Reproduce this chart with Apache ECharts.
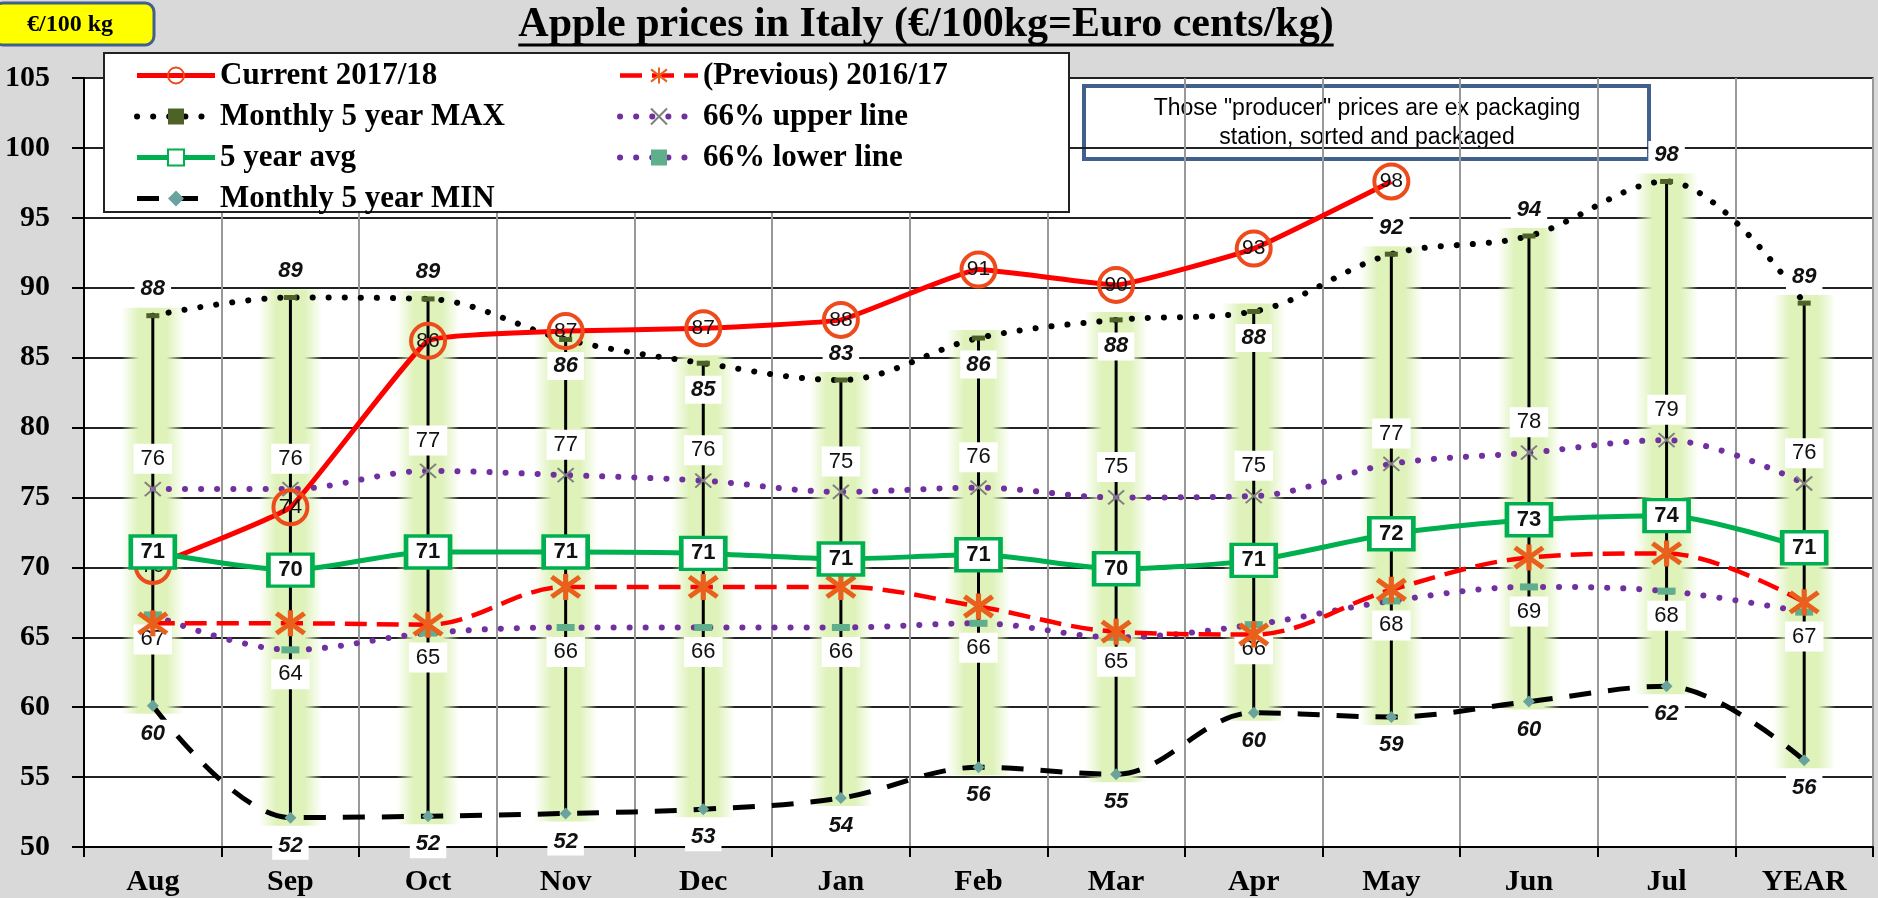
<!DOCTYPE html>
<html>
<head>
<meta charset="utf-8">
<title>Apple prices in Italy</title>
<script src="https://cdn.jsdelivr.net/npm/echarts@6/dist/echarts.min.js"></script>
<style>
  html, body { margin: 0; padding: 0; background: #d9d9d9; }
  #chart { width: 1878px; height: 898px; }
</style>
</head>
<body>
<div id="chart"></div>
<script>
// values (€/100kg)
const months = ['Aug', 'Sep', 'Oct', 'Nov', 'Dec', 'Jan', 'Feb', 'Mar', 'Apr', 'May', 'Jun', 'Jul', 'YEAR'];
const current = [70.1, 74.3, 86.2, 86.9, 87.1, 87.7, 91.3, 90.2, 92.8, 97.6, null, null, null];
const previous = [66.0, 66.0, 65.9, 68.6, 68.6, 68.6, 67.2, 65.4, 65.2, 68.4, 70.7, 71.0, 67.5];
const max5 = [88.0, 89.3, 89.2, 86.3, 84.6, 83.4, 86.4, 87.7, 88.3, 92.4, 93.7, 97.6, 88.9];
const upper66 = [75.6, 75.6, 76.9, 76.6, 76.2, 75.4, 75.7, 75.0, 75.1, 77.4, 78.2, 79.1, 76.0];
const avg5 = [71.1, 69.8, 71.1, 71.1, 71.0, 70.6, 70.9, 69.9, 70.5, 72.4, 73.4, 73.7, 71.4];
const lower66 = [66.6, 64.1, 65.3, 65.7, 65.7, 65.7, 66.0, 65.0, 65.9, 67.6, 68.6, 68.3, 66.8];
const min5 = [60.1, 52.1, 52.2, 52.4, 52.7, 53.5, 55.7, 55.2, 59.6, 59.3, 60.4, 61.5, 56.2];
// which side of the point the MAX label sits on
const maxLabelSide = ['top', 'top', 'top', 'bottom', 'bottom', 'top', 'bottom', 'bottom', 'bottom', 'top', 'top', 'top', 'top'];

const titleText = 'Apple prices in Italy (€/100kg=Euro cents/kg)';
const noteText = 'Those "producer" prices are ex packaging\nstation, sorted and packaged';

const SERIF = '"Liberation Serif", "Times New Roman", serif';
const SANS = '"Liberation Sans", Arial, sans-serif';

const measure = document.createElement('canvas').getContext('2d');
measure.font = 'bold 42px ' + SERIF;
const titleW = measure.measureText(titleText).width;

const round = p => Math.round(Array.isArray(p.value) ? p.value[1] : p.value);

const boxLabel = {
  show: true,
  fontFamily: SANS,
  fontSize: 22,
  color: '#111',
  backgroundColor: '#fff',
  padding: [4, 7],
  formatter: round
};

const legendBase = {
  z: 30, top: 55, orient: 'vertical',
  itemWidth: 78, itemHeight: 20, itemGap: 10, selectedMode: false,
  lineStyle: { width: 'inherit' },
  textStyle: { fontFamily: SERIF, fontWeight: 'bold', fontSize: 31, color: '#000', lineHeight: 24 }
};

// soft green band behind each high-low line
const glowFill = new echarts.graphic.LinearGradient(0, 0, 1, 0, [
  { offset: 0, color: 'rgba(222,242,186,0)' },
  { offset: 0.28, color: 'rgba(222,242,186,1)' },
  { offset: 0.72, color: 'rgba(222,242,186,1)' },
  { offset: 1, color: 'rgba(222,242,186,0)' }
]);

const chart = echarts.init(document.getElementById('chart'));

chart.setOption({
  backgroundColor: '#d9d9d9',
  animation: false,
  grid: {
    left: 84, right: 5, top: 78, bottom: 51,
    show: true, backgroundColor: '#fff', borderColor: '#808080', borderWidth: 2
  },
  xAxis: {
    type: 'category',
    data: months,
    axisLine: { lineStyle: { color: '#000', width: 2 } },
    axisTick: { show: true, length: 10, lineStyle: { color: '#000', width: 2 } },
    splitLine: { show: true, lineStyle: { color: '#999', width: 2 } },
    axisLabel: { fontFamily: SERIF, fontWeight: 'bold', fontSize: 30, color: '#000', margin: 20 }
  },
  yAxis: {
    type: 'value',
    min: 50, max: 105, interval: 5,
    axisLine: { show: true, lineStyle: { color: '#000', width: 2 } },
    axisTick: { show: true, length: 12, lineStyle: { color: '#000', width: 2 } },
    splitLine: { lineStyle: { color: '#222', width: 2 } },
    axisLabel: { fontFamily: SERIF, fontWeight: 'bold', fontSize: 30, color: '#000', margin: 34 }
  },
  legend: [
    Object.assign({}, legendBase, {
      left: 129,
      data: ['Current 2017/18', 'Monthly 5 year MAX', '5 year avg', 'Monthly 5 year MIN']
    }),
    Object.assign({}, legendBase, {
      left: 612,
      data: ['(Previous) 2016/17', '66% upper line', '66% lower line']
    })
  ],
  graphic: [
    {
      type: 'rect', z: -1,
      shape: { x: -6, y: 3, width: 160, height: 42, r: 9 },
      style: { fill: '#ffff00', stroke: '#41608c', lineWidth: 3 }
    },
    {
      type: 'text', x: 70, y: 25, z: 10,
      style: { text: '€/100 kg', font: 'bold 24px ' + SERIF, fill: '#000', align: 'center', verticalAlign: 'middle' }
    },
    {
      type: 'text', x: 926, y: 25,
      style: { text: titleText, font: 'bold 42px ' + SERIF, fill: '#000', align: 'center', verticalAlign: 'middle' }
    },
    {
      type: 'line',
      shape: { x1: 926 - titleW / 2, y1: 45, x2: 926 + titleW / 2, y2: 45 },
      style: { stroke: '#000', lineWidth: 3 }
    },
    {
      type: 'rect', z: 20,
      shape: { x: 104, y: 53, width: 965, height: 159 },
      style: { fill: '#fff', stroke: '#222', lineWidth: 2 }
    },
    {
      type: 'group', x: 1084, y: 86, z: 20,
      children: [
        { type: 'rect', shape: { x: 0, y: 0, width: 565, height: 73 }, style: { fill: '#fff', stroke: '#41608c', lineWidth: 4 } },
        {
          type: 'text', x: 283, y: 37,
          style: { text: noteText, font: '23px ' + SANS, lineHeight: 29, fill: '#000', align: 'center', verticalAlign: 'middle' }
        }
      ]
    }
  ],
  series: [
    {
      // high-low lines with their soft green glow
      type: 'custom',
      z: 1,
      silent: true,
      data: months.map((m, i) => [i, min5[i], max5[i]]),
      renderItem(params, api) {
        const top = api.coord([api.value(0), api.value(2)]);
        const bot = api.coord([api.value(0), api.value(1)]);
        const w = api.size([1, 0])[0] * 0.46;
        return {
          type: 'group',
          children: [
            {
              type: 'rect',
              shape: { x: top[0] - w / 2, y: top[1] - 8, width: w, height: bot[1] - top[1] + 16 },
              style: { fill: glowFill }
            },
            {
              type: 'line',
              shape: { x1: top[0], y1: top[1], x2: bot[0], y2: bot[1] },
              style: { stroke: '#000', lineWidth: 3 }
            }
          ]
        };
      }
    },
    {
      name: '66% lower line',
      type: 'line', z: 2,
      data: lower66,
      smooth: 0.35,
      symbol: 'rect', symbolSize: [18, 7],
      itemStyle: { color: '#5fae8c' },
      lineStyle: { color: '#7030a0', width: 6, type: [0.1, 16], cap: 'round' },
      label: Object.assign({}, boxLabel, { position: 'bottom', distance: 6 })
    },
    {
      name: '66% upper line',
      type: 'line', z: 2,
      data: upper66,
      smooth: 0.35,
      symbol: 'path://M0,0L10,10M10,0L0,10', symbolSize: [16, 14],
      itemStyle: { color: 'none', borderColor: '#7f7f7f', borderWidth: 2 },
      lineStyle: { color: '#7030a0', width: 6, type: [0.1, 16], cap: 'round' },
      label: Object.assign({}, boxLabel, { position: 'top', distance: 6 })
    },
    {
      name: 'Monthly 5 year MIN',
      type: 'line', z: 2,
      data: min5,
      smooth: 0.35,
      symbol: 'diamond', symbolSize: 12,
      itemStyle: { color: '#6aa39b' },
      lineStyle: { color: '#000', width: 5, type: [22, 17] },
      label: Object.assign({}, boxLabel, { position: 'bottom', distance: 8, fontWeight: 'bold', fontStyle: 'italic', padding: [3, 6] })
    },
    {
      name: 'Monthly 5 year MAX',
      type: 'line', z: 2,
      data: max5.map((v, i) => ({ value: v, label: { position: maxLabelSide[i] } })),
      smooth: 0.35,
      symbol: 'rect', symbolSize: [13, 5],
      itemStyle: { color: '#4e6228' },
      lineStyle: { color: '#000', width: 6, type: [0.1, 16], cap: 'round' },
      label: Object.assign({}, boxLabel, { distance: 10, fontWeight: 'bold', fontStyle: 'italic', padding: [3, 6] })
    },
    {
      name: '(Previous) 2016/17',
      type: 'line', z: 3,
      data: previous,
      smooth: 0.35,
      symbol: 'path://M0,0L20,20M20,0L0,20M10,-3L10,23', symbolSize: [28, 26],
      itemStyle: { color: 'none', borderColor: '#e8601c', borderWidth: 5 },
      lineStyle: { color: '#ff0000', width: 4.5, type: [22, 10] }
    },
    {
      name: 'Current 2017/18',
      type: 'line', z: 4,
      data: current,
      smooth: 0.1,
      symbol: 'circle', symbolSize: 34,
      itemStyle: { color: 'rgba(255,255,255,0)', borderColor: '#ee4b1c', borderWidth: 4 },
      lineStyle: { color: '#ff0000', width: 5 },
      label: { show: true, position: 'inside', fontFamily: SANS, fontSize: 21, color: '#111', formatter: round }
    },
    {
      name: '5 year avg',
      type: 'line', z: 5,
      data: avg5,
      smooth: 0.25,
      symbol: 'rect', symbolSize: [44, 32],
      itemStyle: { color: '#fff', borderColor: '#00b050', borderWidth: 4 },
      lineStyle: { color: '#00b050', width: 5 },
      label: { show: true, position: 'inside', fontFamily: SANS, fontSize: 22, fontWeight: 'bold', color: '#111', formatter: round }
    }
  ]
});
</script>
</body>
</html>
